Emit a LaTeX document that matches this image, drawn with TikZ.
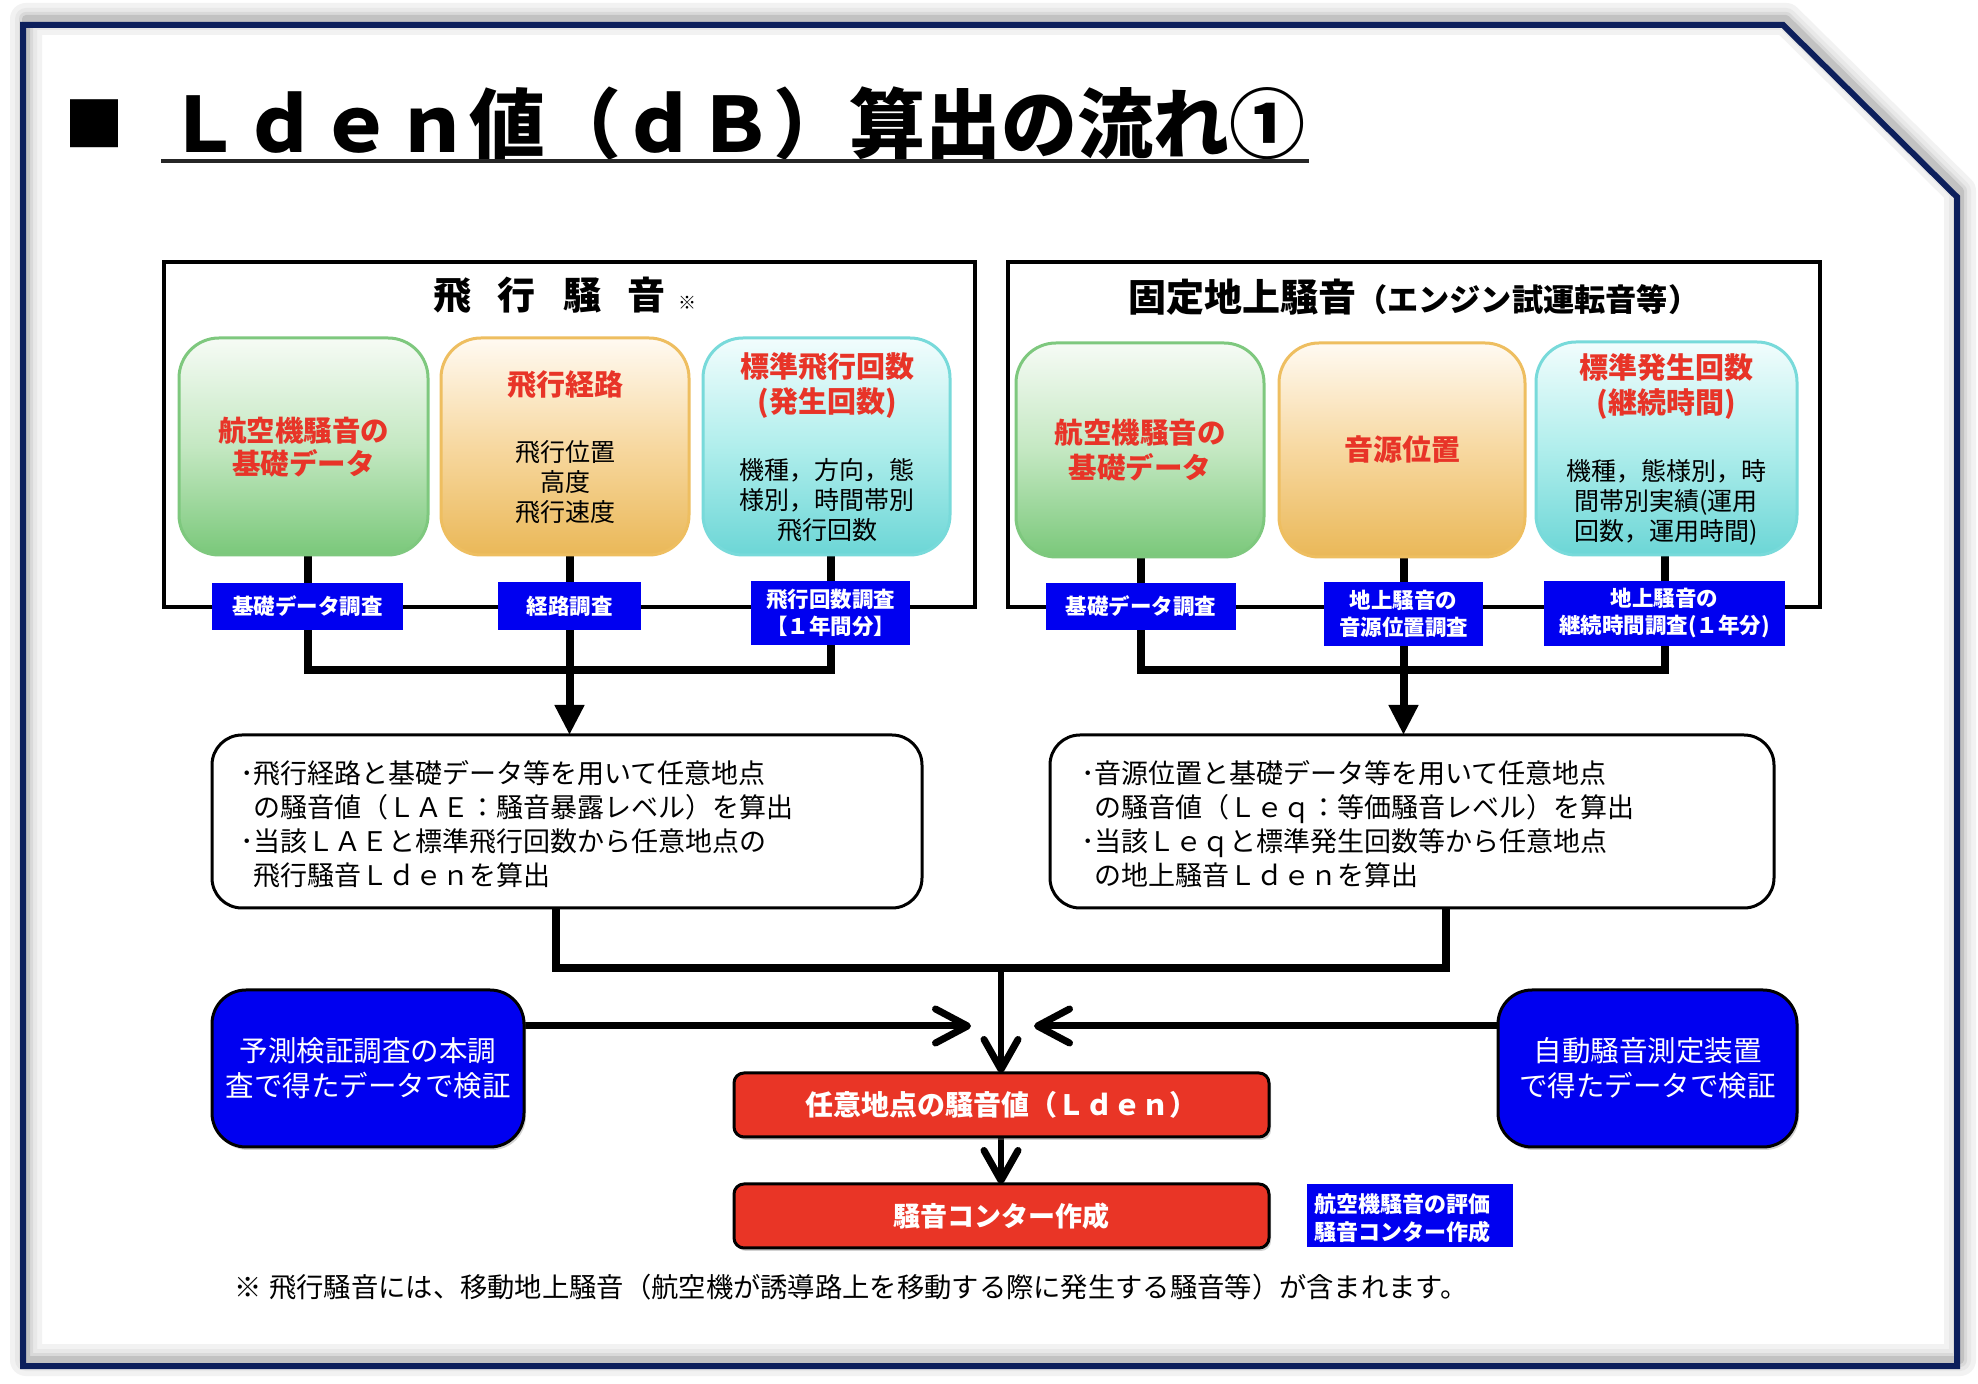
\documentclass[tikz,border=0pt]{standalone}
\usepackage{fontspec}
\setmainfont{Noto Sans CJK JP}
\usetikzlibrary{arrows.meta,fit,shadows}
\newcommand{\fz}[2]{\fontsize{#1pt}{#2pt}\selectfont}
\definecolor{navy}{RGB}{12,31,92}
\definecolor{redt}{RGB}{232,52,40}
\definecolor{redbox}{RGB}{233,53,38}
\definecolor{bluebox}{RGB}{0,0,240}
\definecolor{gtop}{RGB}{246,251,245}
\definecolor{gmid}{RGB}{196,232,194}
\definecolor{gbot}{RGB}{122,200,122}
\definecolor{gline}{RGB}{126,200,126}
\definecolor{otop}{RGB}{255,250,242}
\definecolor{omid}{RGB}{247,216,160}
\definecolor{obot}{RGB}{234,184,88}
\definecolor{oline}{RGB}{238,190,96}
\definecolor{ctop}{RGB}{242,253,253}
\definecolor{cmid}{RGB}{176,238,236}
\definecolor{cbot}{RGB}{108,214,214}
\definecolor{cline}{RGB}{120,218,218}
\pgfdeclarelayer{back}
\pgfdeclarelayer{lines}
\pgfsetlayers{back,lines,main}
\begin{document}
\begin{tikzpicture}[x=0.5pt,y=-0.5pt,
  shp/.style={inner sep=0pt,outer sep=0pt},
  sect/.style={shp,draw=black,line width=2pt},
  upbox/.style={shp,line width=1.5pt,rounded corners=20pt},
  redtitle/.style={shp,align=center,text=redt,font={\fz{14.5}{17.5}\bfseries}},
  body/.style={shp,align=center,text=black,font={\fz{12.5}{15}}},
  lbl/.style={shp,fill=bluebox},
  lbltext/.style={shp,text=white,align=center,font={\fz{10.75}{13.5}\bfseries}},
  tbox/.style={shp,draw=black,line width=1.5pt,rounded corners=15pt,fill=white},
  ttext/.style={shp,align=left,anchor=west,font={\fz{13.5}{17}}},
  bbox/.style={shp,draw=black,line width=1.5pt,rounded corners=17pt,fill=bluebox,drop shadow={shadow xshift=1pt,shadow yshift=-1.5pt,opacity=0.35}},
  btext/.style={shp,text=white,align=center,font={\fz{14.25}{17.5}}},
  rbox/.style={shp,draw=black,line width=1.5pt,rounded corners=5pt,fill=redbox,drop shadow={shadow xshift=1pt,shadow yshift=-1.5pt,opacity=0.35}},
  rtext/.style={shp,text=white,font={\fz{14}{14}\bfseries}},
  conn/.style={line width=4pt,line join=miter},
  dn/.style={line width=2.75pt,-{Straight Barb[length=15pt,width=17pt,round,line width=3.5pt]}},
  harr/.style={line width=3.5pt,-{Straight Barb[length=16pt,width=17pt,round]}},
  tri/.style={line width=4pt,-{Triangle[width=14pt,length=15pt]}}
]
\useasboundingbox (0,0) rectangle (1978,1384);
\begin{pgfonlayer}{back}
  \fill[white] (0,0) rectangle (1978,1384);
  \foreach \w/\c in {16pt/5,11pt/9,7pt/15,4pt/24} {
    \draw[black!\c, line width=\w, line join=round, xshift=1.5pt, yshift=3pt]
      (23,25) -- (1783,25) -- (1957,197) -- (1957,1366) -- (23,1366) -- cycle;}
\end{pgfonlayer}
% outer frame
\draw[navy, line width=3pt, line join=miter] (23,25) -- (1783,25) -- (1957,197) -- (1957,1366) -- (23,1366) -- cycle;

% title
\node[shp,anchor=base west,font={\fz{30}{30}}] (sq) at (64,147) {■};
\node[shp,anchor=base west,font={\fz{38}{38}\bfseries}] (title) at (166,153) {Ｌｄｅｎ値（ｄＢ）算出の流れ①};
\draw[black!85, line width=2pt] (161,161) -- (1309,161);

% section frames
\node[sect, fit={(164,262)(975,607)}] (lf) {};
\node[sect, fit={(1008,262)(1820,607)}] (rf) {};
\node[shp,anchor=west,font={\fz{19}{19}\bfseries}] (lfT) at (433,295) {飛\hspace{13.5pt}行\hspace{13.5pt}騒\hspace{13.5pt}音\hspace{6pt}{\fz{9}{9}\mdseries ※}};
\node[shp,anchor=west] (rfT) at (1128,297) {{\fz{19}{19}\bfseries 固定地上騒音}{\fz{15.6}{15.6}\bfseries （エンジン試運転音等）}};

% upper boxes (left)
\node[upbox, draw=gline, top color=gtop, bottom color=gbot, middle color=gmid, fit={(179,338)(428,555)}] (lg) {};
\node[upbox, draw=oline, top color=otop, bottom color=obot, middle color=omid, fit={(441,338)(689,555)}] (lo) {};
\node[upbox, draw=cline, top color=ctop, bottom color=cbot, middle color=cmid, fit={(703,338)(950,555)}] (lc) {};
\node[redtitle,font={\fz{14.25}{16.5}\bfseries}] (lgT) at (303.5,447) {航空機騒音の\\基礎データ};
\node[redtitle] (loT) at (565,385) {飛行経路};
\node[body] (loB) at (565,482) {飛行位置\\高度\\飛行速度};
\node[redtitle] (lcT) at (827,386) {標準飛行回数\\(発生回数)};
\node[body] (lcB) at (827,500) {機種，方向，態\\様別，時間帯別\\飛行回数};

% upper boxes (right)
\node[upbox, draw=gline, top color=gtop, bottom color=gbot, middle color=gmid, fit={(1016,343)(1264,557)}] (rg) {};
\node[upbox, draw=oline, top color=otop, bottom color=obot, middle color=omid, fit={(1279,343)(1525,557)}] (ro) {};
\node[upbox, draw=cline, top color=ctop, bottom color=cbot, middle color=cmid, fit={(1536,342)(1797,555)}] (rc) {};
\node[redtitle,font={\fz{14.25}{17.5}\bfseries}] (rgT) at (1140,450) {航空機騒音の\\基礎データ};
\node[redtitle] (roT) at (1402,450) {音源位置};
\node[redtitle] (rcT) at (1666,387) {標準発生回数\\(継続時間)};
\node[body] (rcB) at (1666,502) {機種，態様別，時\\間帯別実績(運用\\回数，運用時間)};

% labels
\node[lbl, fit={(212,583)(403,630)}] (LL1) {};
\node[lbltext] (LL1t) at (LL1.center) {基礎データ調査};
\node[lbl, fit={(498,582)(641,630)}] (LL2) {};
\node[lbltext] (LL2t) at (LL2.center) {経路調査};
\node[lbl, fit={(751,581)(910,645)}] (LL3) {};
\node[lbltext] (LL3t) at (LL3.center) {飛行回数調査\\【１年間分】};
\node[lbl, fit={(1046,583)(1236,630)}] (RL1) {};
\node[lbltext] (RL1t) at (RL1.center) {基礎データ調査};
\node[lbl, fit={(1324,582)(1483,646)}] (RL2) {};
\node[lbltext] (RL2t) at (RL2.center) {地上騒音の\\音源位置調査};
\node[lbl, fit={(1544,581)(1785,646)}] (RL3) {};
\node[lbltext] (RL3t) at (RL3.center) {地上騒音の\\継続時間調査(１年分)};

% text boxes
\node[tbox, fit={(212,735)(922,908)}] (lt) {};
\node[ttext] (ltT) at (240,824) {･飛行経路と基礎データ等を用いて任意地点\\\phantom{･}の騒音値（ＬＡＥ：騒音暴露レベル）を算出\\･当該ＬＡＥと標準飛行回数から任意地点の\\\phantom{･}飛行騒音Ｌｄｅｎを算出};
\node[tbox, fit={(1050,735)(1774,908)}] (rt) {};
\node[ttext] (rtT) at (1081,824) {･音源位置と基礎データ等を用いて任意地点\\\phantom{･}の騒音値（Ｌｅｑ：等価騒音レベル）を算出\\･当該Ｌｅｑと標準発生回数等から任意地点\\\phantom{･}の地上騒音Ｌｄｅｎを算出};

% bottom boxes
\node[bbox, fit={(212,990)(524,1147)}] (bl) {};
\node[btext] (blt) at (bl.center) {予測検証調査の本調\\査で得たデータで検証};
\node[bbox, fit={(1498,990)(1797,1147)}] (br) {};
\node[btext] (brt) at (br.center) {自動騒音測定装置\\で得たデータで検証};
\node[rbox, fit={(734,1073)(1269,1137)}] (r1) {};
\node[rtext] (r1t) at (r1.center) {任意地点の騒音値（Ｌｄｅｎ）};
\node[rbox, fit={(734,1184)(1269,1248)}] (r2) {};
\node[rtext, font={\fz{13.5}{13.5}\bfseries}] (r2t) at (r2.center) {騒音コンター作成};
\node[lbl, fit={(1307,1184)(1513,1247)}] (sl) {};
\node[lbltext, align=left, anchor=west, font={\fz{11}{14}\bfseries}] (slt) at (1314,1218) {航空機騒音の評価\\騒音コンター作成};

% footnote
\node[shp,anchor=west,font={\fz{13.65}{13.65}}] (fn) at (234,1287) {※\hspace{4pt}飛行騒音には、移動地上騒音（航空機が誘導路上を移動する際に発生する騒音等）が含まれます。};

% connectors
\begin{pgfonlayer}{lines}
  \coordinate (bY) at (0,670);
  \draw[conn] (LL1.center |- lg.south) -- (LL1.center |- bY) -- (LL3.center |- bY) -- (LL3.center |- lc.south);
  \draw[tri] (LL2.center |- lo.south) -- (LL2.center |- lt.north);
  \draw[conn] (RL1.center |- rg.south) -- (RL1.center |- bY) -- (RL3.center |- bY) -- (RL3.center |- rc.south);
  \draw[tri] (RL2.center |- ro.south) -- (RL2.center |- rt.north);
  \coordinate (jL) at (556,968);
  \coordinate (jM) at (1001,968);
  \coordinate (jR) at (1446,968);
  \draw[conn] (lt.south -| jL) -- (jL) -- (jR) -- (rt.south -| jR);
  \draw[dn] (jM) -- (r1.north -| jM);
  \draw[dn] (r1.south -| jM) -- (r2.north -| jM);
  \coordinate (aL) at (971,1026);
  \coordinate (aR) at (1034,1026);
  \draw[harr] (bl.east |- aL) -- (aL);
  \draw[harr] (br.west |- aR) -- (aR);
\end{pgfonlayer}
\end{tikzpicture}
\end{document}
